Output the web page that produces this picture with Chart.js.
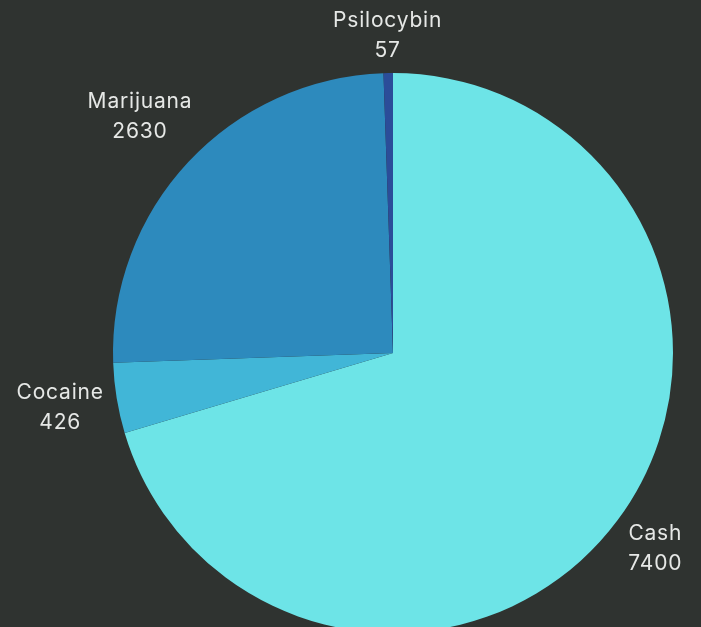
<!DOCTYPE html>
<html>
<head>
<meta charset="utf-8">
<script src="https://cdn.jsdelivr.net/npm/chart.js@4"></script>
<style>
  html, body { margin: 0; padding: 0; background: #2f3330; overflow: hidden; }
  #wrap { position: absolute; left: 0; top: 0; width: 701px; height: 720px; }
</style>
</head>
<body>
<div id="wrap"><canvas id="pieChart"></canvas></div>
<script>
const categories = ["Cash", "Cocaine", "Marijuana", "Psilocybin"];
const values = [7400, 426, 2630, 57];
const colors = ["#6de4e7", "#41b6d7", "#2d8abd", "#2b4d99"];

// labels outside each slice: name on top, value below
const outsideLabels = {
  id: "outsideLabels",
  afterDraw(chart) {
    const ctx = chart.ctx;
    const meta = chart.getDatasetMeta(0);
    ctx.save();
    ctx.font = "21px Inter";
    ctx.letterSpacing = "0.8px";
    ctx.fillStyle = "#e6e8e6";
    ctx.textAlign = "center";
    ctx.textBaseline = "middle";
    const lineH = 30;
    meta.data.forEach((arc, i) => {
      const p = arc.getProps(["x", "y", "startAngle", "endAngle", "outerRadius"], true);
      const mid = (p.startAngle + p.endAngle) / 2;
      const lines = [categories[i], `${values[i]}`];
      const halfW = Math.max(...lines.map(t => ctx.measureText(t).width)) / 2;
      const halfH = lineH;
      const d = p.outerRadius + 10 + halfW * Math.abs(Math.cos(mid)) + (halfH - 4) * Math.abs(Math.sin(mid));
      const x = p.x + Math.cos(mid) * d;
      const y = p.y + Math.sin(mid) * d;
      ctx.fillText(lines[0], x, y - lineH / 2);
      ctx.fillText(lines[1], x, y + lineH / 2);
    });
    ctx.restore();
  },
};

const pieChart = new Chart(document.getElementById("pieChart"), {
  type: "pie",
  data: {
    labels: categories,
    datasets: [
      {
        data: values,
        backgroundColor: colors,
        borderWidth: 0,
        hoverOffset: 0,
        offset: 0,
      },
    ],
  },
  options: {
    responsive: true,
    maintainAspectRatio: false,
    animation: false,
    layout: {
      padding: { top: 73, bottom: 87, left: 113, right: 28 },
    },
    plugins: {
      legend: { display: false },
      tooltip: { enabled: false },
    },
  },
  plugins: [outsideLabels],
});
</script>
</body>
</html>
